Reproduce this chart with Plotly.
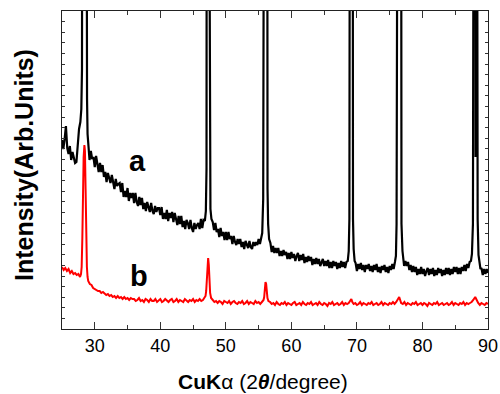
import plotly.graph_objects as go

# ---- sample a (black): 2theta (deg) and intensity (arb. units) ----
two_theta_a = [
    25.0, 25.2, 25.4, 25.6, 25.8, 26.0, 26.2, 26.4, 26.6, 26.8,
    27.0, 27.2, 27.4, 27.6, 27.8, 27.95, 28.05, 28.12, 28.2, 28.45, 28.65, 28.74, 28.82, 28.9,
    29.0, 29.2, 29.4, 29.6, 29.8, 30.0, 30.2, 30.4, 30.6, 30.8,
    31.0, 31.2, 31.4, 31.6, 31.8, 32.0, 32.2, 32.4, 32.6, 32.8,
    33.0, 33.2, 33.4, 33.6, 33.8, 34.0, 34.2, 34.4, 34.6, 34.8,
    35.0, 35.2, 35.4, 35.6, 35.8, 36.0, 36.2, 36.4, 36.6, 36.8,
    37.0, 37.2, 37.4, 37.6, 37.8, 38.0, 38.2, 38.4, 38.6, 38.8,
    39.0, 39.2, 39.4, 39.6, 39.8, 40.0, 40.2, 40.4, 40.6, 40.8,
    41.0, 41.2, 41.4, 41.6, 41.8, 42.0, 42.2, 42.4, 42.6, 42.8,
    43.0, 43.2, 43.4, 43.6, 43.8, 44.0, 44.2, 44.4, 44.6, 44.8,
    45.0, 45.2, 45.4, 45.6, 45.8, 46.0, 46.2, 46.4, 46.6, 46.8,
    46.95, 47.05, 47.1, 47.3, 47.5, 47.55, 47.65, 47.8,
    48.0, 48.2, 48.4, 48.6, 48.8, 49.0, 49.2, 49.4, 49.6, 49.8,
    50.0, 50.2, 50.4, 50.6, 50.8, 51.0, 51.2, 51.4, 51.6, 51.8,
    52.0, 52.2, 52.4, 52.6, 52.8, 53.0, 53.2, 53.4, 53.6, 53.8,
    54.0, 54.2, 54.4, 54.6, 54.8, 55.0, 55.2, 55.4, 55.55,
    55.7, 55.78, 56.07, 56.3, 56.36, 56.45, 56.6,
    56.8, 57.0, 57.2, 57.4, 57.6, 57.8, 58.0, 58.2, 58.4, 58.6, 58.8,
    59.0, 59.2, 59.4, 59.6, 59.8, 60.0, 60.2, 60.4, 60.6, 60.8,
    61.0, 61.2, 61.4, 61.6, 61.8, 62.0, 62.2, 62.4, 62.6, 62.8,
    63.0, 63.2, 63.4, 63.6, 63.8, 64.0, 64.2, 64.4, 64.6, 64.8,
    65.0, 65.2, 65.4, 65.6, 65.8, 66.0, 66.2, 66.4, 66.6, 66.8,
    67.0, 67.2, 67.4, 67.6, 67.8, 68.0, 68.2, 68.4, 68.6,
    68.75, 68.85, 68.9, 69.1, 69.35, 69.4, 69.5, 69.65,
    69.8, 70.0, 70.2, 70.4, 70.6, 70.8, 71.0, 71.2, 71.4, 71.6, 71.8,
    72.0, 72.2, 72.4, 72.6, 72.8, 73.0, 73.2, 73.4, 73.6, 73.8,
    74.0, 74.2, 74.4, 74.6, 74.8, 75.0, 75.2, 75.4, 75.6, 75.8,
    75.95, 76.05, 76.15, 76.42, 76.7, 76.8, 76.95, 77.1,
    77.2, 77.4, 77.6, 77.8, 78.0, 78.2, 78.4, 78.6, 78.8,
    79.0, 79.2, 79.4, 79.6, 79.8, 80.0, 80.2, 80.4, 80.6, 80.8,
    81.0, 81.2, 81.4, 81.6, 81.8, 82.0, 82.2, 82.4, 82.6, 82.8,
    83.0, 83.2, 83.4, 83.6, 83.8, 84.0, 84.2, 84.4, 84.6, 84.8,
    85.0, 85.2, 85.4, 85.6, 85.8, 86.0, 86.2, 86.4, 86.6, 86.8,
    87.0, 87.2, 87.4, 87.55,
    87.7, 87.78, 87.98, 88.1, 88.22, 88.36, 88.42, 88.55,
    88.7, 88.85, 89.0, 89.2, 89.4, 89.6, 89.8, 90.0,
]
intensity_a = [
    189, 180, 190, 203, 181, 175, 183, 169, 177, 171,
    166, 167, 185, 200, 207, 220, 260, 330, 900, 3000, 900, 330, 230, 195,
    181, 169, 178, 170, 172, 162, 173, 163, 157, 166,
    157, 164, 152, 157, 147, 156, 152, 146, 154, 145,
    140, 150, 143, 145, 146, 137, 146, 132, 138, 132,
    141, 128, 136, 131, 136, 126, 136, 127, 123, 132,
    124, 131, 120, 126, 118, 127, 123, 117, 126, 118,
    115, 123, 117, 121, 121, 114, 122, 110, 116, 110,
    119, 108, 116, 111, 117, 107, 116, 108, 104, 113,
    105, 113, 102, 108, 100, 109, 106, 100, 109, 101,
    97, 106, 100, 104, 106, 100, 110, 101, 109, 108,
    118, 160, 400, 3000, 400, 160, 120, 110,
    107, 99, 106, 97, 100, 92, 101, 93, 97, 89,
    97, 89, 97, 90, 93, 85, 93, 87, 84, 90,
    85, 90, 82, 87, 80, 88, 85, 81, 88, 82,
    80, 87, 83, 87, 84, 90, 85, 92, 96,
    130, 400, 3000, 400, 140, 105, 90,
    86, 77, 83, 76, 81, 76, 81, 73, 78, 73, 79,
    74, 77, 70, 76, 70, 77, 71, 75, 68, 73,
    76, 68, 74, 69, 75, 66, 72, 67, 73, 68,
    72, 64, 70, 65, 71, 65, 70, 63, 67, 70,
    63, 68, 63, 69, 61, 67, 61, 68, 63, 67,
    60, 66, 61, 68, 62, 67, 61, 67, 68,
    78, 110, 400, 3000, 400, 110, 80, 68,
    66, 58, 65, 60, 66, 59, 64, 57, 64, 60, 65,
    58, 63, 57, 64, 59, 65, 57, 62, 56, 63,
    59, 64, 57, 62, 56, 63, 59, 65, 60, 67,
    73, 105, 400, 3000, 400, 105, 78, 70,
    63, 68, 63, 67, 59, 64, 57, 63, 57,
    62, 54, 60, 55, 62, 55, 60, 53, 58, 61,
    54, 60, 55, 61, 53, 59, 54, 61, 56, 60,
    53, 59, 54, 61, 55, 61, 54, 60, 55, 62,
    57, 62, 55, 61, 55, 62, 58, 64, 58, 65,
    61, 67, 68, 75,
    105, 400, 3000, 172, 3000, 400, 110, 74,
    63, 60, 61, 54, 60, 55, 60, 56,
]

# ---- sample b (red) ----
two_theta_b = [
    25.0, 25.25, 25.5, 25.75, 26.0, 26.25, 26.5, 26.75, 27.0, 27.25, 27.5, 27.75,
    27.9, 28.0, 28.1, 28.2, 28.3, 28.42, 28.5, 28.6, 28.7, 28.8, 28.9, 29.0,
    29.25, 29.5, 29.75, 30.0, 30.25, 30.5, 30.75, 31.0, 31.25, 31.5, 31.75,
    32.0, 32.25, 32.5, 32.75, 33.0, 33.25, 33.5, 33.75, 34.0, 34.25, 34.5, 34.75,
    35.0, 35.25, 35.5, 35.75, 36.0, 36.25, 36.5, 36.75, 37.0, 37.25, 37.5, 37.75,
    38.0, 38.25, 38.5, 38.75, 39.0, 39.25, 39.5, 39.75, 40.0, 40.25, 40.5, 40.75,
    41.0, 41.25, 41.5, 41.75, 42.0, 42.25, 42.5, 42.75, 43.0, 43.25, 43.5, 43.75,
    44.0, 44.25, 44.5, 44.75, 45.0, 45.25, 45.5, 45.75, 46.0, 46.25, 46.5, 46.75,
    46.9, 47.0, 47.1, 47.2, 47.3, 47.4, 47.5, 47.6, 47.75,
    48.0, 48.25, 48.5, 48.75, 49.0, 49.25, 49.5, 49.75, 50.0, 50.25, 50.5, 50.75,
    51.0, 51.25, 51.5, 51.75, 52.0, 52.25, 52.5, 52.75, 53.0, 53.25, 53.5, 53.75,
    54.0, 54.25, 54.5, 54.75, 55.0, 55.25, 55.5, 55.75,
    55.85, 55.95, 56.05, 56.15, 56.25, 56.35, 56.5,
    56.75, 57.0, 57.25, 57.5, 57.75, 58.0, 58.25, 58.5, 58.75, 59.0, 59.25, 59.5, 59.75,
    60.0, 60.25, 60.5, 60.75, 61.0, 61.25, 61.5, 61.75, 62.0, 62.25, 62.5, 62.75,
    63.0, 63.25, 63.5, 63.75, 64.0, 64.25, 64.5, 64.75, 65.0, 65.25, 65.5, 65.75,
    66.0, 66.25, 66.5, 66.75, 67.0, 67.25, 67.5, 67.75, 68.0, 68.25, 68.5, 68.75,
    69.0, 69.15, 69.3, 69.5, 69.75, 70.0, 70.25, 70.5, 70.75, 71.0, 71.25, 71.5, 71.75,
    72.0, 72.25, 72.5, 72.75, 73.0, 73.25, 73.5, 73.75, 74.0, 74.25, 74.5, 74.75,
    75.0, 75.25, 75.5, 75.75, 76.0, 76.15, 76.3, 76.45, 76.6, 76.75,
    77.0, 77.25, 77.5, 77.75, 78.0, 78.25, 78.5, 78.75, 79.0, 79.25, 79.5, 79.75,
    80.0, 80.25, 80.5, 80.75, 81.0, 81.25, 81.5, 81.75, 82.0, 82.25, 82.5, 82.75,
    83.0, 83.25, 83.5, 83.75, 84.0, 84.25, 84.5, 84.75, 85.0, 85.25, 85.5, 85.75,
    86.0, 86.25, 86.5, 86.75, 87.0, 87.25, 87.5, 87.75, 87.9, 88.05, 88.2, 88.35,
    88.5, 88.75, 89.0, 89.25, 89.5, 89.75, 90.0,
]
intensity_b = [
    62, 59, 61, 58, 60, 56, 58, 55, 56, 54, 55, 52,
    55, 62, 90, 140, 172, 184, 178, 140, 90, 62, 52, 48,
    45, 44, 41, 40, 39, 38, 38, 36, 37, 35, 34,
    35, 33, 34, 32, 33, 31, 33, 31, 32, 30, 32, 30,
    31, 29, 31, 30, 30, 28, 29, 31, 28, 29, 27, 30,
    29, 27, 30, 28, 28, 30, 27, 29, 30, 27, 28, 30,
    28, 27, 29, 30, 27, 28, 30, 27, 29, 28, 27, 30,
    28, 27, 29, 28, 30, 27, 29, 28, 30, 28, 29, 31,
    33, 38, 50, 65, 71, 64, 48, 36, 31,
    29, 27, 28, 26, 28, 27, 25, 28, 27, 26, 28, 25,
    27, 28, 26, 25, 27, 26, 28, 25, 26, 28, 25, 27,
    26, 25, 28, 26, 27, 25, 27, 29,
    32, 40, 47, 45, 37, 31, 28,
    27, 25, 26, 24, 27, 25, 24, 26, 25, 27, 24, 26, 25,
    24, 26, 27, 24, 25, 26, 24, 27, 25, 24, 26, 25,
    27, 24, 25, 26, 24, 27, 25, 24, 26, 25, 23, 26,
    25, 27, 24, 25, 26, 24, 25, 27, 24, 26, 25, 26,
    28, 30, 27, 25, 26, 24, 25, 27, 24, 26, 25, 24, 26,
    25, 27, 24, 25, 26, 24, 25, 27, 24, 26, 25, 24,
    26, 25, 27, 25, 27, 29, 31, 32, 29, 26,
    25, 27, 24, 26, 25, 24, 26, 25, 27, 24, 25, 26,
    24, 26, 25, 23, 26, 25, 24, 26, 25, 27, 24, 25,
    26, 24, 25, 26, 24, 25, 27, 24, 26, 25, 24, 26,
    25, 27, 24, 26, 25, 26, 27, 29, 31, 32, 30, 27,
    26, 24, 26, 25, 24, 26, 25,
]

assert len(two_theta_a) == len(intensity_a), (len(two_theta_a), len(intensity_a))
assert len(two_theta_b) == len(intensity_b), (len(two_theta_b), len(intensity_b))

x_ticks = [30, 40, 50, 60, 70, 80, 90]
x_range = [25, 90]
y_range = [0, 318]

fig = go.Figure()
fig.add_trace(go.Scatter(x=two_theta_a, y=intensity_a, mode="lines",
                         line=dict(color="black", width=2.2), showlegend=False))
fig.add_trace(go.Scatter(x=two_theta_b, y=intensity_b, mode="lines",
                         line=dict(color="#ff0000", width=2.0), showlegend=False))

fig.update_layout(
    width=500, height=394,
    margin=dict(l=62, r=12, t=11, b=65),
    paper_bgcolor="white", plot_bgcolor="white",
    font=dict(family="Liberation Sans, Arial", color="black"),
    showlegend=False,
)
fig.update_xaxes(
    range=x_range, tickvals=x_ticks, ticktext=[str(v) for v in x_ticks],
    ticks="inside", ticklen=7, tickwidth=1, tickcolor="#333",
    minor=dict(ticks="inside", ticklen=4, dtick=5, tick0=25, tickcolor="#333"),
    showline=True, linecolor="#222", linewidth=1.2, mirror="ticks",
    showgrid=False, zeroline=False, automargin=False,
    tickfont=dict(size=18, family="Liberation Sans, Arial", color="black"),
)
fig.update_yaxes(
    range=y_range, tick0=0, dtick=10.6, showticklabels=False,
    ticks="inside", ticklen=3, tickwidth=1, tickcolor="#333",
    showline=True, linecolor="#222", linewidth=1.2, mirror="ticks",
    showgrid=False, zeroline=False, automargin=False,
)

fig.add_annotation(x=36.5, y=168, xref="x", yref="y", text="<b>a</b>", showarrow=False,
                   font=dict(size=29, family="Liberation Sans, Arial", color="black"))
fig.add_annotation(x=36.8, y=53, xref="x", yref="y", text="<b>b</b>", showarrow=False,
                   font=dict(size=29, family="Liberation Sans, Arial", color="black"))
fig.add_annotation(
    x=(263 - 62) / 426, y=-(381 - 329) / 318, xref="paper", yref="paper",
    text="<b>CuK</b>α (2<b><i>θ</i></b>/degree)", showarrow=False,
    xanchor="center", yanchor="middle",
    font=dict(size=21, family="Liberation Sans, Arial", color="black"),
)
fig.add_annotation(
    x=-(62 - 24) / 426, y=(329 - 165) / 318, xref="paper", yref="paper",
    text="<b>Intensity(Arb.Units)</b>", showarrow=False, textangle=-90,
    xanchor="center", yanchor="middle",
    font=dict(size=25, family="Liberation Sans, Arial", color="black"),
)

fig.write_html("out.html")
